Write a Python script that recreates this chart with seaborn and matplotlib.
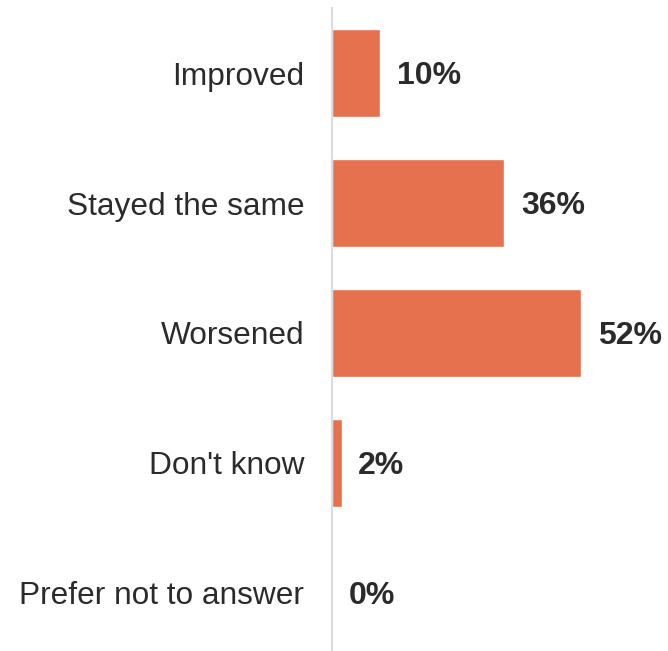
import matplotlib
matplotlib.use("Agg")
import matplotlib.pyplot as plt
import seaborn as sns
import pandas as pd

categories = ["Improved", "Stayed the same", "Worsened", "Don't know", "Prefer not to answer"]
values = [10, 36, 52, 2, 0]
value_labels = ["10%", "36%", "52%", "2%", "0%"]

sns.set_style("white")
plt.rcParams["font.family"] = ["Liberation Sans", "DejaVu Sans"]

df = pd.DataFrame({"category": categories, "value": values})

fig = plt.figure(figsize=(6.68, 6.51), dpi=100)
ax = fig.add_axes([332 / 668, -7 / 651, 336 / 668, 650 / 651])

sns.barplot(data=df, x="value", y="category", order=categories, orient="h",
            color="#e6714f", saturation=1, width=0.67, ax=ax)

ax.set_xlim(0, 336 / 4.79)
ax.set_ylim(len(categories) - 0.5, -0.5)

for i, (v, lab) in enumerate(zip(values, value_labels)):
    ax.annotate(lab, xy=(v, i), xytext=(12, 0), textcoords="offset points",
                ha="left", va="center_baseline", fontsize=23.0, fontweight="bold",
                color="#2b2b2b")

ax.set_xlabel("")
ax.set_ylabel("")
ax.set_xticks([])
ax.tick_params(axis="y", length=0, pad=20, labelsize=22.8, labelcolor="#2b2b2b")
for s in ["top", "right", "bottom"]:
    ax.spines[s].set_visible(False)
ax.spines["left"].set_color("#dcdce0")
ax.spines["left"].set_linewidth(1.5)

fig.savefig("out.png", dpi=100)
